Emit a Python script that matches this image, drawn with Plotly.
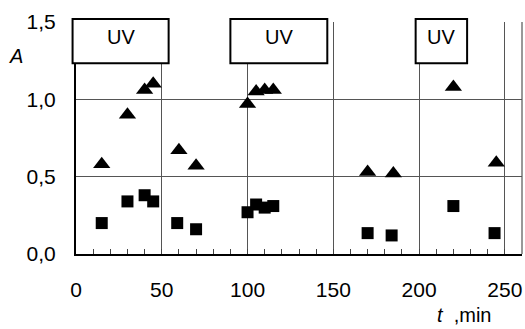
import plotly.graph_objects as go

# data
t_tri = [15, 30, 40, 45, 60, 70, 100, 105, 110, 115, 170, 185, 220, 245]
a_tri = [0.58, 0.90, 1.06, 1.10, 0.67, 0.57, 0.97, 1.05, 1.06, 1.06, 0.53, 0.52, 1.08, 0.59]
t_sq = [15, 30, 40, 45, 59, 70, 100, 105, 110, 115, 170, 184, 220, 244]
a_sq = [0.20, 0.34, 0.38, 0.34, 0.20, 0.16, 0.27, 0.32, 0.30, 0.31, 0.135, 0.12, 0.31, 0.135]

uv_start = [-2, 90, 198]
uv_end = [54, 146.5, 228]
uv_label = "UV"

x_range = [0, 260]
y_range = [0, 1.5]
x_major = [0, 50, 100, 150, 200, 250]
x_minor = list(range(0, 261, 10))
y_ticks = [0.0, 0.5, 1.0, 1.5]
y_ticklabels = ["0,0", "0,5", "1,0", "1,5"]

FONT = "Liberation Sans"

fig = go.Figure()
fig.add_trace(go.Scatter(x=t_tri, y=a_tri, mode="markers",
                         marker=dict(symbol="triangle-up", size=15, color="black"),
                         cliponaxis=False, showlegend=False))
fig.add_trace(go.Scatter(x=t_sq, y=a_sq, mode="markers",
                         marker=dict(symbol="square", size=12, color="black"),
                         cliponaxis=False, showlegend=False))
# invisible trace to activate grid axis
fig.add_trace(go.Scatter(x=[x_range[0]], y=[y_range[0]], xaxis="x2", mode="markers",
                         marker=dict(opacity=0), hoverinfo="skip", showlegend=False))

def xp(v):
    return (v - x_range[0]) / (x_range[1] - x_range[0])

def yp(v):
    return (v - y_range[0]) / (y_range[1] - y_range[0])

box_y0, box_y1 = 1.234, 1.519
for s, e in zip(uv_start, uv_end):
    fig.add_shape(type="rect", xref="paper", yref="paper", x0=xp(s), x1=xp(e),
                  y0=yp(box_y0), y1=yp(box_y1), fillcolor="white",
                  line=dict(color="black", width=2), layer="above")
    fig.add_annotation(xref="paper", yref="paper", x=(xp(s) + xp(e)) / 2,
                       y=yp((box_y0 + box_y1) / 2 + 0.025), text=uv_label, showarrow=False,
                       xanchor="center", yanchor="middle",
                       font=dict(family=FONT, size=20, color="black"))

# right border
fig.add_shape(type="line", xref="paper", yref="paper", x0=1, x1=1, y0=0, y1=1,
              line=dict(color="#333", width=1), layer="below")

fig.add_annotation(xref="paper", yref="paper", x=-0.134, y=0.852, text="<i>A</i>",
                   showarrow=False, xanchor="center", yanchor="middle",
                   font=dict(family=FONT, size=20, color="black"))
fig.add_annotation(xref="paper", yref="paper", x=0.935, y=-0.265, text="<i>t</i>  ,min",
                   showarrow=False, xanchor="right", yanchor="middle",
                   font=dict(family=FONT, size=20, color="black"))

fig.update_layout(
    xaxis=dict(range=x_range, tickvals=x_minor,
               ticktext=[str(v) if v in x_major else "" for v in x_minor],
               ticks="inside", ticklen=5, tickwidth=1, tickcolor="#444",
               showgrid=False,
               showline=True, linecolor="black", linewidth=2,
               zeroline=False,
               tickfont=dict(family=FONT, size=21, color="black"),
               ticklabelstandoff=16),
    xaxis2=dict(range=x_range, tickvals=x_major, showticklabels=False, ticks="",
                showgrid=True, gridcolor="#555", gridwidth=1,
                zeroline=False, showline=False,
                overlaying="x", side="bottom", anchor="y"),
    yaxis=dict(range=y_range, tickvals=y_ticks, ticktext=y_ticklabels,
               showgrid=True, gridcolor="#555", gridwidth=1,
               showline=True, linecolor="black", linewidth=2,
               zeroline=False, ticks="",
               tickfont=dict(family=FONT, size=21, color="black"),
               ticklabelstandoff=14),
)

fig.update_layout(width=525, height=329, margin=dict(l=76, r=3, t=22, b=75),
                  paper_bgcolor="white", plot_bgcolor="white",
                  font=dict(family=FONT))

fig.write_html("out.html")
